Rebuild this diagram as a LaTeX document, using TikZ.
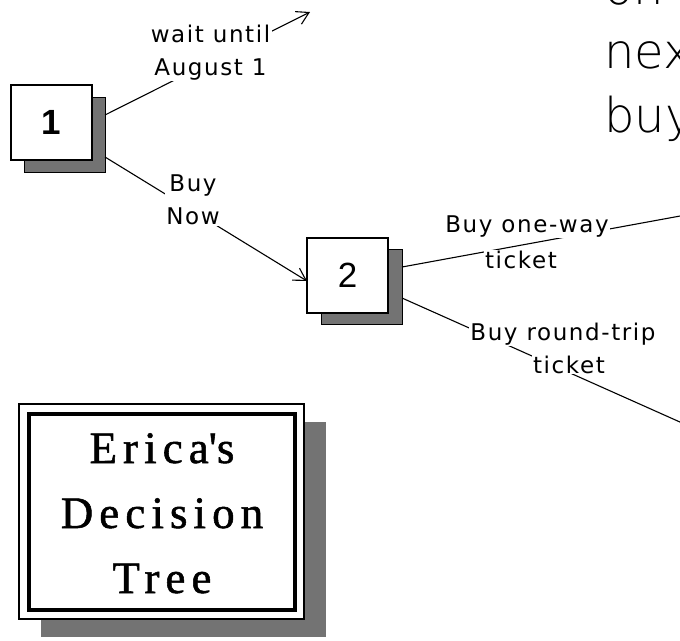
\documentclass[tikz,border=0pt]{standalone}
\usepackage{fontspec}
\setmainfont{Liberation Serif}
\newfontfamily\labelfont{DejaVu Sans}[LetterSpace=7]
\newfontfamily\numfont{Liberation Sans}
\newfontfamily\titlefont{Liberation Serif}[LetterSpace=13.5,FakeBold=1.2]
% a thin sans for the large note text, with fallbacks
\IfFontExistsTF{DejaVu Sans ExtraLight}
  {\newfontfamily\notefont{DejaVu Sans ExtraLight}}
  {\IfFontExistsTF{Fira Sans Light}
    {\newfontfamily\notefont{Fira Sans Light}}
    {\IfFontExistsTF{Poppins Light}
      {\newfontfamily\notefont{Poppins Light}}
      {\newfontfamily\notefont{Liberation Sans}}}}
\usetikzlibrary{shadows,arrows.meta}

\tikzset{
  decbox/.style={draw=black, line width=1.5pt, fill=white, minimum width=81pt,
    minimum height=75pt, inner sep=0pt, outer sep=0pt,
    font=\numfont\fontsize{35}{40}\selectfont},
  shadowfill/.style={fill=black!55},
  conn/.style={line width=1.1pt, draw=black},
  barb/.style={-{Straight Barb[length=12pt,width=14pt,line width=1.1pt]}},
  lbl/.style={font=\labelfont\fontsize{23}{33}\selectfont, fill=white,
    inner xsep=1.5pt, inner ysep=1pt, anchor=base},
  lblpair/.style={lbl, anchor=center, align=center},
  note/.style={font=\notefont\fontsize{48}{60}\selectfont, anchor=base west,
    inner sep=0pt},
  titleline/.style={font=\titlefont\fontsize{45}{50}\selectfont, anchor=base,
    inner sep=0pt}
}

\begin{document}
\begin{tikzpicture}[x=1pt,y=-1pt]
  \useasboundingbox (0,0) rectangle (680,640);
  \clip (0,0) rectangle (680,640);
  \fill[white] (0,0) rectangle (680,640);

  % decision nodes with their offset shadows
  \node[decbox, general shadow={shadowfill, draw=black, line width=1pt,
        shadow xshift=13pt, shadow yshift=-12pt}]
    (n1) at (51.5,122.5) {\bfseries 1};
  \node[decbox, general shadow={shadowfill, draw=black, line width=1pt,
        shadow xshift=14pt, shadow yshift=-11pt}]
    (n2) at (347.5,275.5) {2};

  % free ends of the branches
  \coordinate (wend) at (310,12);
  \coordinate (e1) at (690,214.2);
  \coordinate (e2) at (690,426.5);

  % branches
  \draw[conn, barb] ([xshift=13pt,yshift=7.5pt]n1.east) -- (wend);
  \draw[conn, barb] ([xshift=13pt,yshift=-34.5pt]n1.east) -- ([yshift=-5.5pt]n2.west);
  \draw[conn] ([xshift=14pt,yshift=8.5pt]n2.east) -- (e1);
  \draw[conn] ([xshift=14pt,yshift=-22.5pt]n2.east) -- (e2);

  % branch labels
  \node[lblpair] (wait) at (210.5,52.5) {wait until\\August 1};
  \node[lblpair] (now) at (193,200) {Buy\\Now};
  \node[lbl] (ow1) at (527,232) {Buy one-way};
  \node[lbl] (ow2) at (521,268) {ticket};
  \node[lbl] (rt1) at (563,340) {Buy round-trip};
  \node[lbl] (rt2) at (569,373) {ticket};

  % note text running off the right edge
  \node[note] (note1) at (604,4) {on t};
  \node[note] (note2) at (604,68) {next};
  \node[note] (note3) at (604,132) {buy};

  % title plate
  \node[draw=black, line width=1.5pt, fill=white, minimum width=285pt,
        minimum height=215pt, inner sep=0pt, outer sep=0pt,
        general shadow={shadowfill, shadow xshift=22pt, shadow yshift=-17.5pt}]
    (frame) at (161.5,511.5) {};
  \node[draw=black, line width=4pt, minimum width=266pt, minimum height=196pt,
        inner sep=0pt, outer sep=0pt] (title) at (162,512) {};
  \node[titleline] (t1) at (162,463) {Erica\textquotesingle s};
  \node[titleline] (t2) at (162,528) {Decision};
  \node[titleline] (t3) at (162,593) {Tree};
\end{tikzpicture}
\end{document}
